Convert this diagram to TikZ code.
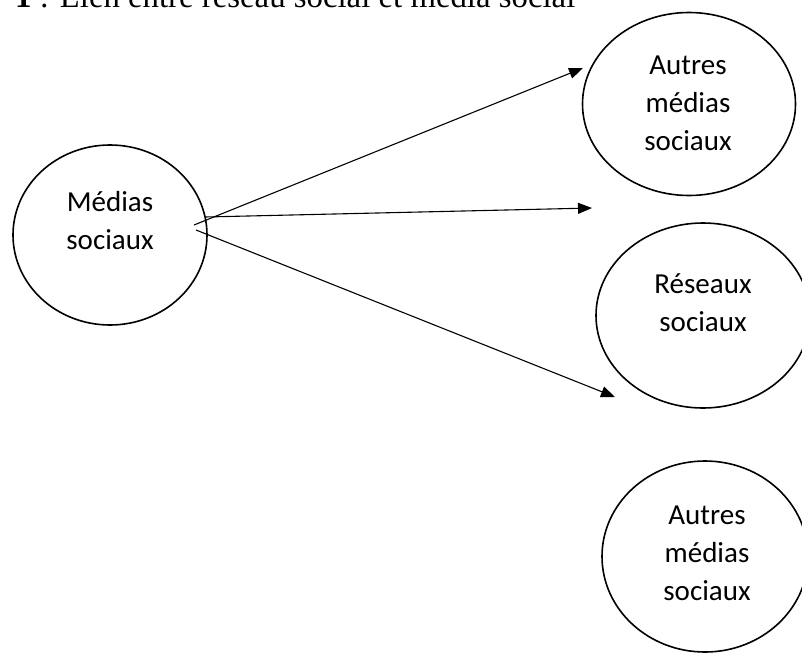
\documentclass[tikz,border=0pt]{standalone}
\usepackage{fontspec}
\setmainfont{Liberation Serif}
\newfontfamily\calib{Carlito}
\usetikzlibrary{arrows.meta}
\usetikzlibrary{shapes.geometric}
\usetikzlibrary{positioning}
\tikzset{
    bulle/.style={draw, ellipse, line width=1.6pt, inner sep=0pt},
    etiq/.style={align=center, font=\calib\fontsize{29}{38}\selectfont},
    fleche/.style={line width=1.1pt, -{Triangle[length=14pt, width=11pt]}}
}

\begin{document}
\begin{tikzpicture}[x=1pt, y=-1pt]
            \useasboundingbox (0, 0) rectangle (802, 653);
            \node[anchor=base west, inner sep=0pt, font=\fontsize{32.8}{36}\selectfont] (titre) at (15, 7) {\textbf{1} : Lien entre réseau social et média social};

            \node[bulle, minimum width=194pt, minimum height=180pt] (med) at (110, 235) {};
            \node[bulle, minimum width=213pt, minimum height=183pt] (autA) at (689, 104) {};
            \node[bulle, minimum width=214pt, minimum height=185pt] (res) at (703, 315.5) {};
            \node[bulle, minimum width=206pt, minimum height=191pt] (autB) at (705, 556.5) {};

            \node[etiq] (medT) at (110, 221) {Médias\\sociaux};
            \node[etiq] (autAT) at (688, 103) {Autres\\médias\\sociaux};
            \node[etiq] (resT) at (703, 303) {Réseaux\\sociaux};
            \node[etiq] (autBT) at (707, 553) {Autres\\médias\\sociaux};

            \coordinate (d1) at (194, 225);
            \coordinate (d2) at (205, 217);
            \coordinate (d3) at (196, 230);
            \coordinate (f1) at (583, 68);
            \coordinate (f2) at (592, 208);
            \coordinate (f3) at (615, 397);
            \draw[fleche] (d1) -- (f1);
            \draw[fleche] (d2) -- (f2);
            \draw[fleche] (d3) -- (f3);
        \end{tikzpicture}
\end{document}
